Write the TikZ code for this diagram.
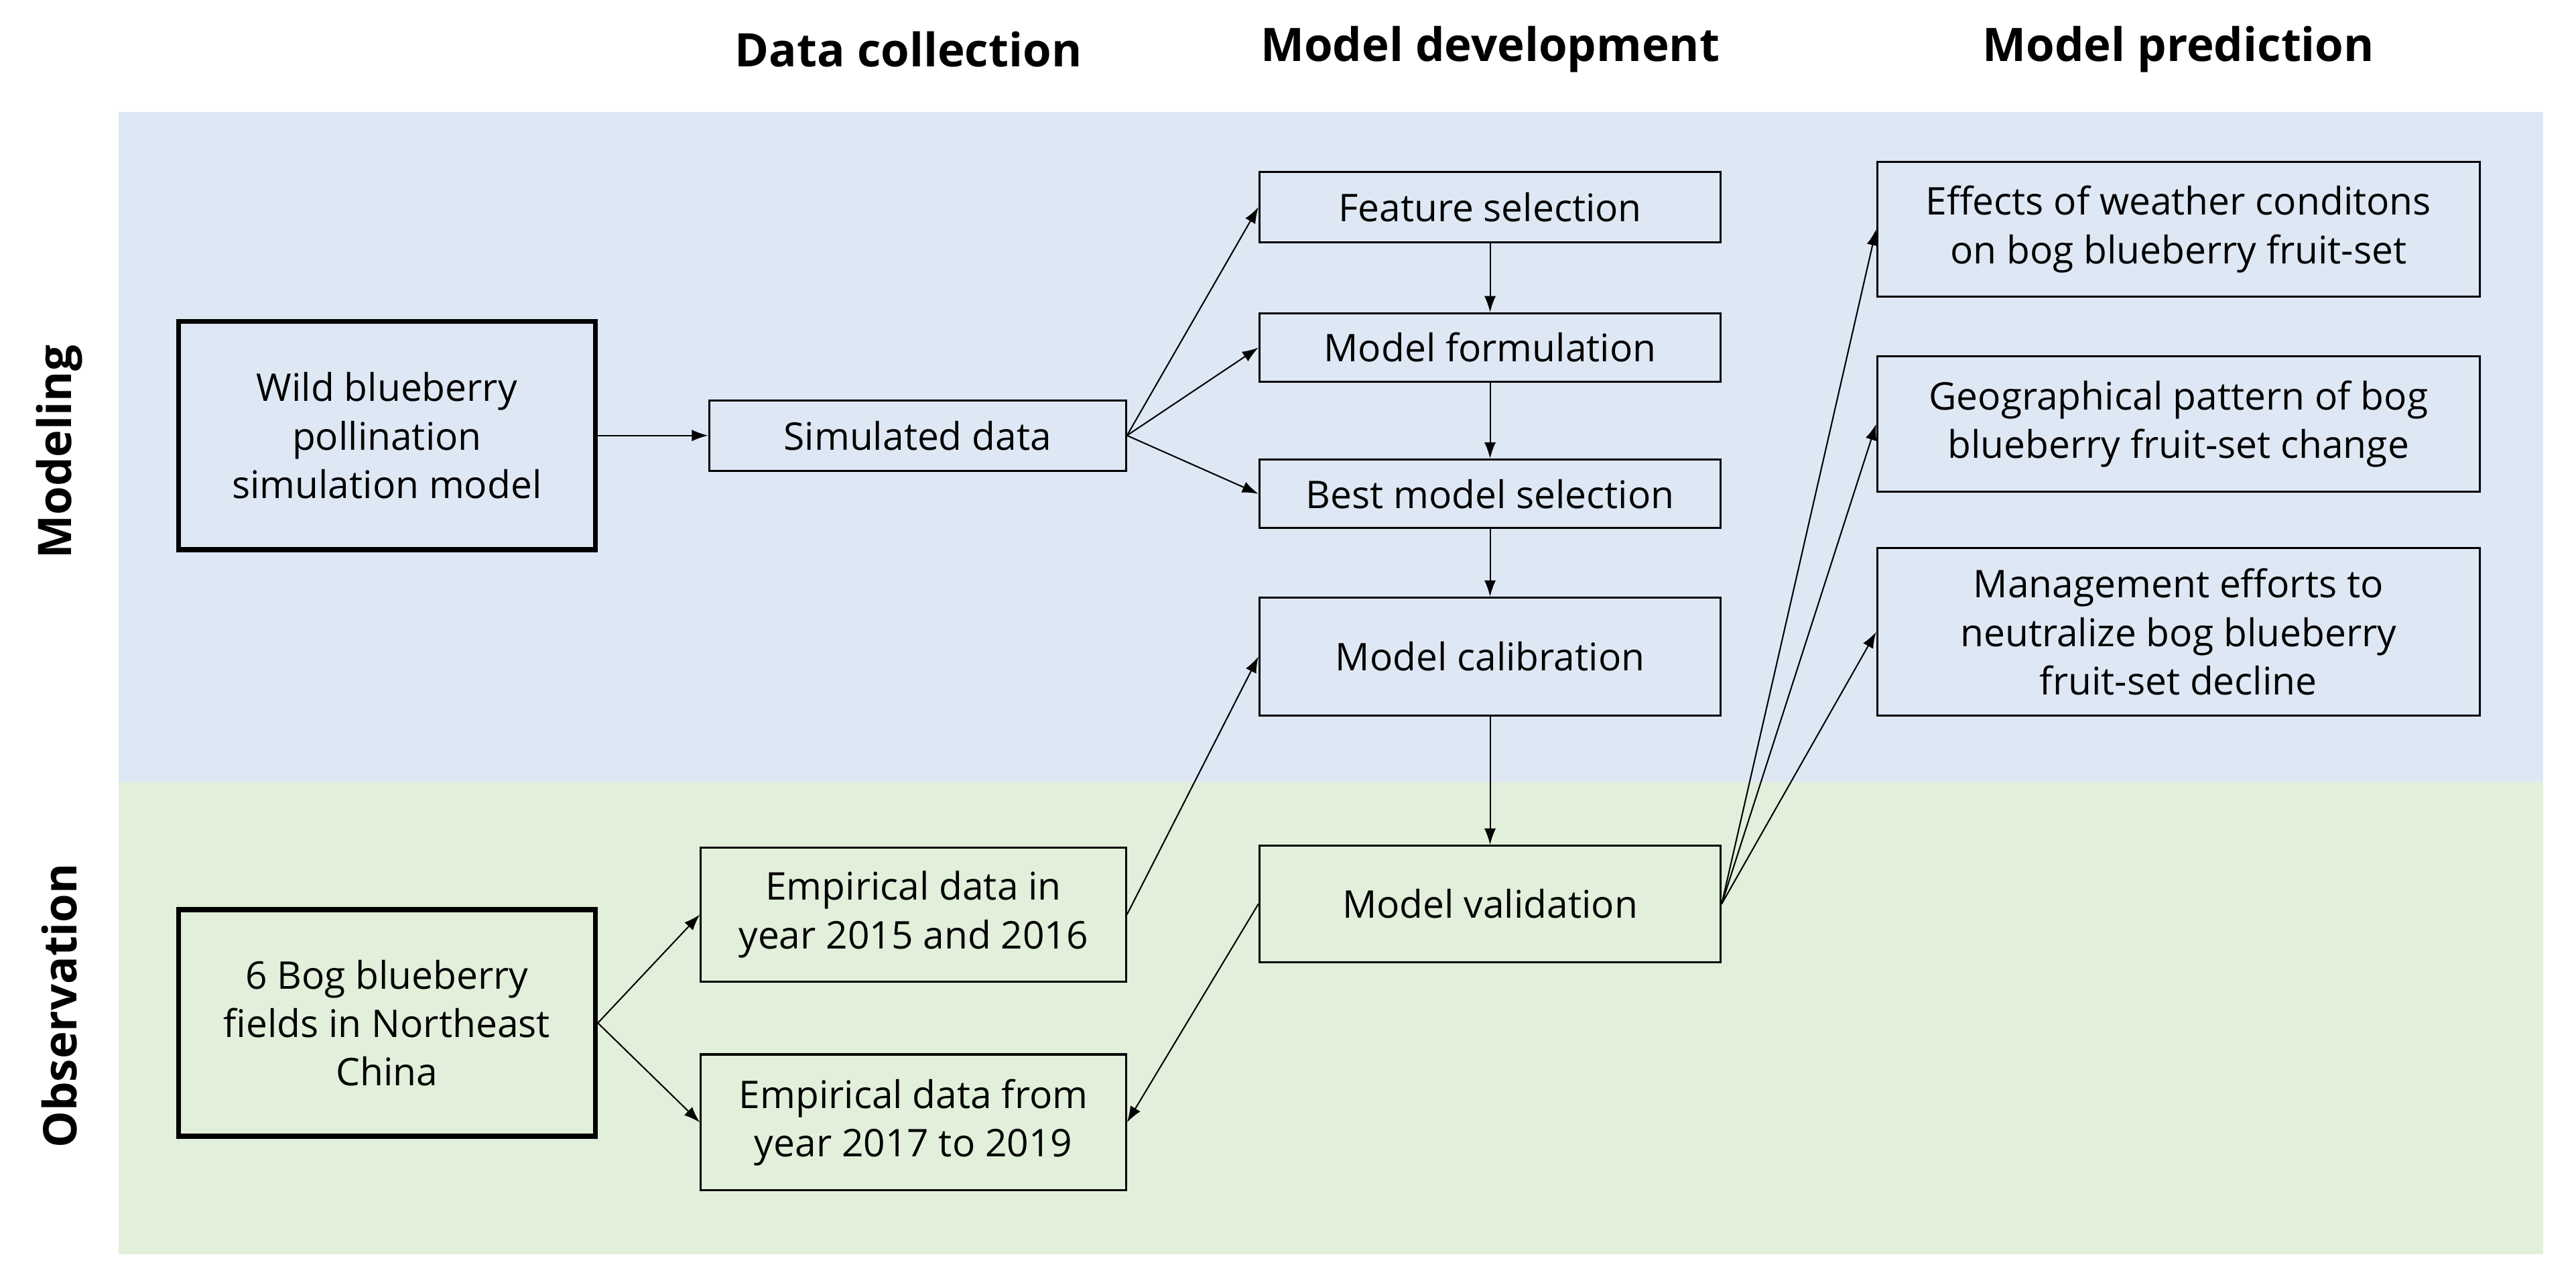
\documentclass[tikz,border=0pt]{standalone}
\usepackage{fontspec}
\setmainfont{Open Sans}
\usetikzlibrary{arrows.meta}
\definecolor{bblue}{HTML}{DEE8F4}
\definecolor{bgreen}{HTML}{E2EFDA}
\begin{document}
\begin{tikzpicture}[x=0.025cm,y=-0.025cm,
  box/.style={draw,line width=0.9pt,align=center,font=\fontsize{16.5}{21}\selectfont,inner sep=0pt},
  thickbox/.style={box,line width=2.2pt},
  hdr/.style={font=\fontsize{20}{24}\selectfont\bfseries},
  arr/.style={-{Latex[length=7pt,width=5pt]},line width=0.6pt}]
\useasboundingbox (0,0) rectangle (1568,778);
\fill[bblue] (72,68) rectangle (1548,476);
\fill[bgreen] (72,476) rectangle (1548,763);
\node[hdr] (h1) at (553,30) {Data collection};
\node[hdr] (h2) at (907,30) {Model development};
\node[hdr] (h3) at (1326,30) {Model prediction};
\node[hdr,rotate=90] (s1) at (36,275) {Modeling};
\node[hdr,rotate=90] (s2) at (36,612) {Observation};
\newcommand{\bx}[7][box]{\node[#1,minimum width=#4*0.025cm-0.9pt,minimum height=#5*0.025cm-0.9pt] (#2) at (#3) {#7};}
\bx[thickbox]{wild}{235.5,265}{255}{140}{}{Wild blueberry\\pollination\\simulation model}
\bx{sim}{558.5,265}{255}{44}{}{Simulated data}
\bx{feat}{907,126}{282}{44}{}{Feature selection}
\bx{form}{907,211.5}{282}{43}{}{Model formulation}
\bx{best}{907,300.5}{282}{43}{}{Best model selection}
\bx{calib}{907,399.5}{282}{73}{}{Model calibration}
\bx{valid}{907,550}{282}{72}{}{Model validation}
\bx{eff}{1326,139.5}{368}{83}{}{Effects of weather conditons\\on bog blueberry fruit-set}
\bx{geo}{1326,258}{368}{84}{}{Geographical pattern of bog\\blueberry fruit-set change}
\bx{mgmt}{1326,384.5}{368}{103}{}{Management efforts to\\neutralize bog blueberry\\fruit-set decline}
\bx[thickbox]{bog}{235.5,622.5}{255}{139}{}{6 Bog blueberry\\fields in Northeast\\China}
\bx{emp1}{556,556.5}{260}{83}{}{Empirical data in\\year 2015 and 2016}
\bx{emp2}{556,683}{260}{84}{}{Empirical data from\\year 2017 to 2019}
\draw[arr] (wild.east) -- (sim.west);
\draw[arr] (sim.east) -- (feat.west);
\draw[arr] (sim.east) -- (form.west);
\draw[arr] (sim.east) -- (best.west);
\draw[arr] (feat) -- (form);
\draw[arr] (form) -- (best);
\draw[arr] (best) -- (calib);
\draw[arr] (calib) -- (valid);
\draw[arr] (emp1.east) -- (calib.west);
\draw[arr] (valid.west) -- (emp2.east);
\draw[arr] (valid.east) -- (eff.west);
\draw[arr] (valid.east) -- (geo.west);
\draw[arr] (valid.east) -- (mgmt.west);
\draw[arr] (bog.east) -- (emp1.west);
\draw[arr] (bog.east) -- (emp2.west);
\end{tikzpicture}
\end{document}
